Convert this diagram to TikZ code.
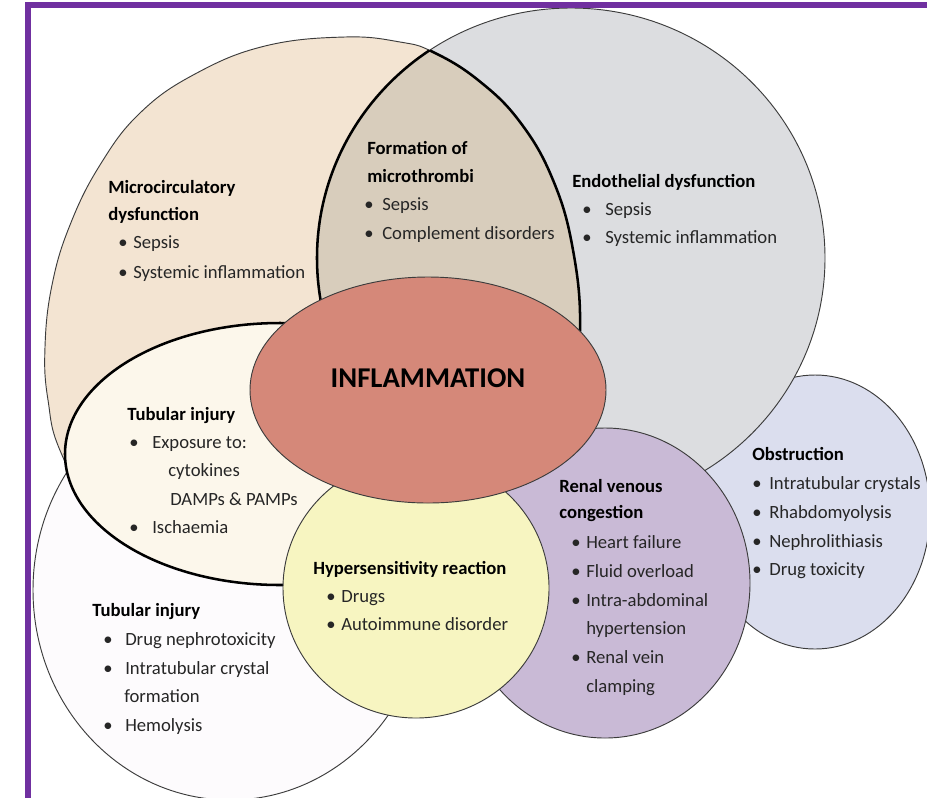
\documentclass[tikz,border=0pt]{standalone}
\usepackage{fontspec}
\setmainfont{Carlito}
\definecolor{beigeC}{RGB}{243,228,210}
\definecolor{greyC}{RGB}{220,221,224}
\definecolor{lensC}{RGB}{216,205,188}
\definecolor{creamC}{RGB}{252,247,235}
\definecolor{whiteC}{RGB}{253,251,253}
\definecolor{salmonC}{RGB}{213,136,121}
\definecolor{yellowC}{RGB}{247,245,193}
\definecolor{purpleC}{RGB}{201,186,214}
\definecolor{obsC}{RGB}{219,222,238}
\definecolor{frameC}{RGB}{112,48,160}
\definecolor{lineC}{RGB}{60,60,60}
\definecolor{bodyC}{RGB}{38,38,38}
\newcommand\bitem[5]{\node[body] (#1b) at (#2,#4) {•}; \node[body] (#1) at (#3,#4) {#5};}
\begin{document}
\begin{tikzpicture}[x=0.75pt,y=-0.75pt,
  outl/.style={draw=lineC, line width=0.7pt},
  thickl/.style={draw=black, line width=1.9pt},
  body/.style={anchor=base west, inner sep=0pt, text=bodyC, font=\fontsize{14}{17}\selectfont},
  head/.style={anchor=base west, inner sep=0pt, text=black, font=\bfseries\fontsize{14}{17}\selectfont}]
\useasboundingbox (0,0) rectangle (927,797);
\clip (0,0) rectangle (927,797);
\fill[white] (0,0) rectangle (927,797);
\def\beigepath{plot[smooth cycle, tension=0.7] coordinates {(45,347) (52,285) (70,225) (100,165) (140,113) (195,74) (265,46) (345,37) (400,42) (433,52) (478,80) (520,122) (553,180) (573,250) (580,330) (570,410) (530,490) (450,560) (330,600) (200,590) (110,540) (62,455) (48,400)}}
\def\greypath{(571,258) ellipse [x radius=254, y radius=250]}
% obstruction (lowest)
\path[fill=obsC, outl] (815,512) ellipse [x radius=115, y radius=137];
% microcirculatory and endothelial
\path[fill=beigeC, outl] \beigepath;
\path[fill=greyC, outl] \greypath;
\begin{scope}
  \clip \beigepath;
  \fill[lensC] \greypath;
  \draw[thickl] \greypath;
\end{scope}
\begin{scope}
  \clip \greypath;
  \draw[thickl] \beigepath;
\end{scope}
% tubular injury (drug) circle
\path[fill=whiteC, outl] (230,590) ellipse [x radius=197, y radius=210];
% tubular injury (exposure)
\path[fill=creamC, thickl] (280,454) ellipse [x radius=215, y radius=131];
% renal venous congestion
\path[fill=purpleC, outl] (605,583) ellipse [x radius=145, y radius=155];
% hypersensitivity
\path[fill=yellowC, outl] (416,588) ellipse [x radius=133, y radius=130];
% inflammation
\path[fill=salmonC, outl] (428,390) ellipse [x radius=178, y radius=113];
% frame
\draw[frameC, line width=4.5pt] (28,800) -- (28,4.5) -- (935,4.5);
% texts
\node[anchor=base, inner sep=0pt, font=\bfseries\fontsize{21.5}{24}\selectfont, text=black] (infl) at (428,387) {INFLAMMATION};
\node[head] (mh1) at (108,193) {Microcirculatory};
\node[head] (mh2) at (108,220) {dysfunction};
\bitem{m1}{118}{133}{248}{Sepsis}
\bitem{m2}{118}{133}{278}{Systemic inflammation}
\node[head] (fh1) at (367,154) {Formation of};
\node[head] (fh2) at (367,182) {microthrombi};
\bitem{f1}{364}{382}{210}{Sepsis}
\bitem{f2}{364}{382}{239}{Complement disorders}
\node[head] (eh1) at (572,187) {Endothelial dysfunction};
\bitem{e1}{582}{605}{215}{Sepsis}
\bitem{e2}{582}{605}{243}{Systemic inflammation}
\node[head] (th1) at (127,420) {Tubular injury};
\bitem{t1}{129}{152}{448}{Exposure to:}
\node[body] (t1a) at (168,476) {cytokines};
\node[body] (t1c) at (170,505) {DAMPs \& PAMPs};
\bitem{t2}{129}{152}{533}{Ischaemia}
\node[head] (hh1) at (313,574) {Hypersensitivity reaction};
\bitem{h1}{326}{341}{602}{Drugs}
\bitem{h2}{326}{341}{630}{Autoimmune disorder}
\node[head] (uh1) at (92,616) {Tubular injury};
\bitem{u1}{103}{125}{645}{Drug nephrotoxicity}
\bitem{u2}{103}{125}{674}{Intratubular crystal}
\node[body] (u2a) at (124,702) {formation};
\bitem{u3}{103}{125}{731}{Hemolysis}
\node[head] (rh1) at (559,492) {Renal venous};
\node[head] (rh2) at (559,518) {congestion};
\bitem{r1}{571}{586}{548}{Heart failure}
\bitem{r2}{571}{586}{577}{Fluid overload}
\bitem{r3}{571}{586}{606}{Intra-abdominal}
\node[body] (r3a) at (586,634) {hypertension};
\bitem{r4}{571}{586}{663}{Renal vein}
\node[body] (r4a) at (586,692) {clamping};
\node[head] (oh1) at (752,460) {Obstruction};
\bitem{o1}{752}{769}{489}{Intratubular crystals}
\bitem{o2}{752}{769}{518}{Rhabdomyolysis}
\bitem{o3}{752}{769}{547}{Nephrolithiasis}
\bitem{o4}{752}{769}{575}{Drug toxicity}
\end{tikzpicture}
\end{document}
